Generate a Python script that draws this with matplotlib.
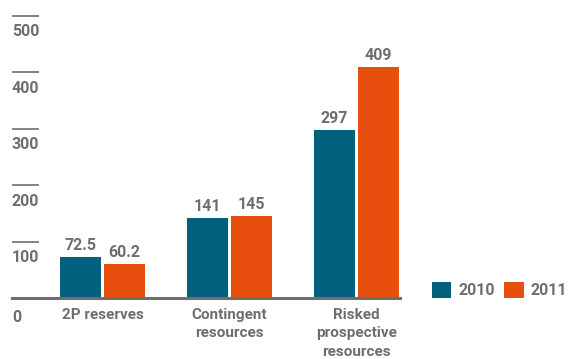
import matplotlib
matplotlib.use("Agg")
import matplotlib.pyplot as plt
import matplotlib.transforms as mtransforms
from matplotlib.patches import Patch
import numpy as np

categories = ["2P reserves", "Contingent\nresources", "Risked\nprospective\nresources"]
series_names = ["2010", "2011"]
values_2010 = [72.5, 141, 297]
values_2011 = [60.2, 145, 409]
value_labels_2010 = ["72.5", "141", "297"]
value_labels_2011 = ["60.2", "145", "409"]
yticks = [100, 200, 300, 400, 500]
ytick_labels = ["100", "200", "300", "400", "500"]

BLUE = "#00617e"
ORANGE = "#e84f0f"
GREY = "#6e6e6e"
FONT = "Roboto"

plt.rcParams['font.family'] = [FONT, 'DejaVu Sans']

W, H = 570, 359
fig = plt.figure(figsize=(W / 100, H / 100), dpi=100)
left_px, right_px = 12, 400
base_px = 298
px_per_unit = 56.4 / 100
ytop = 520
ax = fig.add_axes([left_px / W, (H - base_px) / H, (right_px - left_px) / W,
                   ytop * px_per_unit / H])

spacing = 127.0
x0 = (102.5 - left_px) / spacing
ax.set_xlim(-x0, (right_px - left_px) / spacing - x0)
ax.set_ylim(0, ytop)

x = np.arange(len(categories))
bw = 41 / spacing
off = 22 / spacing

for xs, vals, labs, col in [(x - off, values_2010, value_labels_2010, BLUE),
                            (x + off, values_2011, value_labels_2011, ORANGE)]:
    bars = ax.bar(xs, vals, width=bw, color=col, zorder=2)
    for b, lab in zip(bars, labs):
        ax.annotate(lab, (b.get_x() + b.get_width() / 2, b.get_height()),
                    xytext=(0, 3), textcoords="offset points", ha="center",
                    va="bottom", fontsize=11.5, color=GREY, fontweight="bold")

for s in ax.spines.values():
    s.set_visible(False)
ax.axhline(0, color=GREY, lw=2.2, zorder=3, clip_on=False)

ax.set_yticks(yticks)
ax.set_yticklabels([])
ax.tick_params(axis="y", direction="in", length=19.5, width=1.2, color=GREY, pad=0)
ax.set_xticks(x)
ax.set_xticklabels(categories, fontsize=11, color=GREY, fontweight="bold",
                   linespacing=1.4)
ax.tick_params(axis="x", length=0, pad=7)

trans = mtransforms.blended_transform_factory(ax.transAxes, ax.transData)
for v, lab in zip([0] + yticks, ["0"] + ytick_labels):
    ax.annotate(lab, (0, v), xycoords=trans, xytext=(0, -6 if v else -9),
                textcoords="offset points", ha="left", va="top",
                fontsize=11.5, color=GREY, fontweight="bold")

handles = [Patch(facecolor=BLUE, edgecolor="none"), Patch(facecolor=ORANGE, edgecolor="none")]
fig.legend(handles, series_names, loc="center left", bbox_to_anchor=(432 / W, 1 - 290 / H),
           ncol=2, frameon=False, handlelength=1.2, handleheight=1.2,
           handletextpad=0.45, columnspacing=0.6, labelcolor=GREY,
           borderpad=0, borderaxespad=0,
           prop={"weight": "bold", "size": 11.5, "family": FONT})

fig.savefig("out.png", dpi=100)
